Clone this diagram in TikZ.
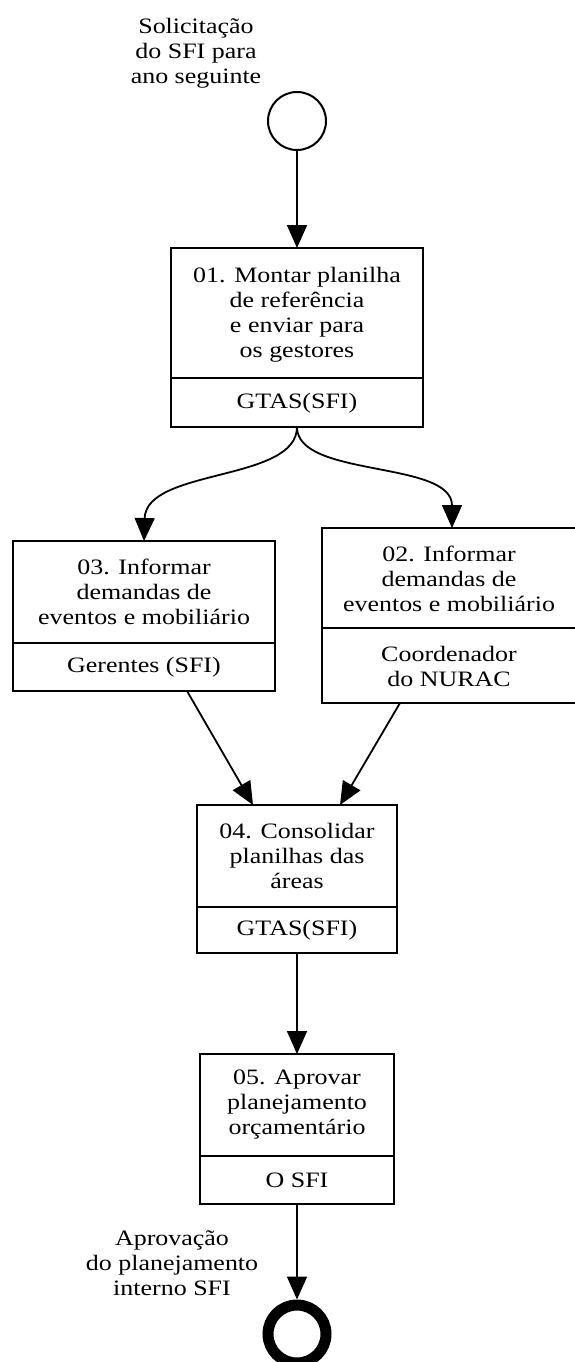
\documentclass[tikz,border=0pt]{standalone}
\usepackage{fontspec}
\setmainfont{Liberation Serif}[FakeStretch=1.18]
\usetikzlibrary{arrows.meta,calc}
\tikzset{
  every node/.style={font=\fontsize{22}{25}\selectfont, inner sep=0pt, outer sep=0pt},
  taskbox/.style={draw=black, line width=2pt, rectangle, inner sep=0pt},
  txt/.style={align=center},
  flow/.style={draw=black, line width=1.8pt, -{Triangle[length=23pt,width=20pt]}},
  startev/.style={draw=black, line width=2pt, circle, minimum size=58pt, inner sep=0pt, outer sep=1pt},
  endev/.style={draw=black, line width=11pt, circle, minimum size=58pt, inner sep=0pt, outer sep=5.5pt},
}
\begin{document}
\begin{tikzpicture}[x=1pt,y=-1pt]
\useasboundingbox (0,0) rectangle (574,1362);
\fill[white] (0,0) rectangle (574,1362);

% start event
\node[startev] (s) at (297,121) {};
\node[txt] (sl) at (196,53) {Solicitação\\do SFI para\\ano seguinte};

% box 01
\node[taskbox, minimum width=252pt, minimum height=179pt] (b1) at (297,337.5) {};
\draw[line width=2pt] (b1.west |- 0,378) -- (b1.east |- 0,378);
\node[txt] (b1t) at (297,315) {01. Montar planilha\\de referência\\e enviar para\\os gestores};
\node[txt] (b1r) at (297,403) {GTAS(SFI)};

% box 03
\node[taskbox, minimum width=262pt, minimum height=150pt] (b3) at (144,616) {};
\draw[line width=2pt] (b3.west |- 0,643) -- (b3.east |- 0,643);
\node[txt] (b3t) at (144,592) {03. Informar\\demandas de\\eventos e mobiliário};
\node[txt] (b3r) at (144,667) {Gerentes (SFI)};

% box 02
\node[taskbox, minimum width=254pt, minimum height=175pt] (b2) at (449,615.5) {};
\draw[line width=2pt] (b2.west |- 0,628) -- (b2.east |- 0,628);
\node[txt] (b2t) at (449,579) {02. Informar\\demandas de\\eventos e mobiliário};
\node[txt] (b2r) at (449,666) {Coordenador\\do NURAC};

% box 04
\node[taskbox, minimum width=200pt, minimum height=148pt] (b4) at (297,879) {};
\draw[line width=2pt] (b4.west |- 0,907) -- (b4.east |- 0,907);
\node[txt] (b4t) at (297,856) {04. Consolidar\\planilhas das\\áreas};
\node[txt] (b4r) at (297,930) {GTAS(SFI)};

% box 05
\node[taskbox, minimum width=194pt, minimum height=150pt] (b5) at (297,1129) {};
\draw[line width=2pt] (b5.west |- 0,1156) -- (b5.east |- 0,1156);
\node[txt] (b5t) at (297,1105) {05. Aprovar\\planejamento\\orçamentário};
\node[txt] (b5r) at (297,1180) {O SFI};

% end event
\node[endev] (e) at (297,1334) {};
\node[txt] (el) at (172,1263) {Aprovação\\do planejamento\\interno SFI};

% connectors
\draw[flow] (s.south) -- (b1.north);
\draw[flow] (b1.south) .. controls (297,482) and (146,468) .. (b3.north);
\draw[flow] (b1.south) .. controls (297,478) and (452,460) .. ([xshift=3pt]b2.north);
\draw[flow] ([xshift=43pt]b3.south) -- ([xshift=-44pt]b4.north);
\draw[flow] ([xshift=-49pt]b2.south) -- ([xshift=43pt]b4.north);
\draw[flow] (b4.south) -- (b5.north);
\draw[flow] (b5.south) -- (e.north);
\end{tikzpicture}
\end{document}
